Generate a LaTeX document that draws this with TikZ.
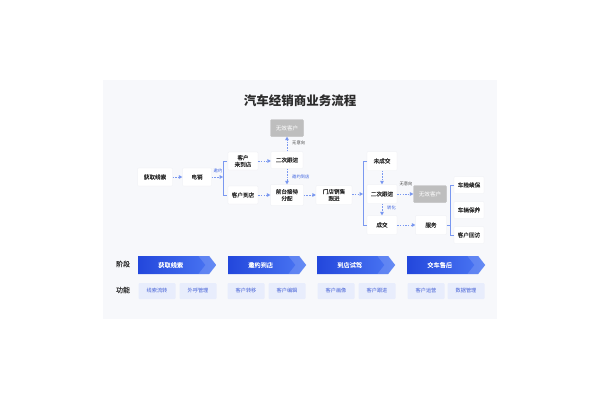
\documentclass[tikz,border=0pt]{standalone}
\usepackage{fontspec}
\setmainfont{Noto Sans CJK SC}
\newfontfamily\medfont[FakeBold=0.15]{Noto Sans CJK SC}
\usetikzlibrary{arrows.meta,shapes.symbols,calc}
\definecolor{panelbg}{HTML}{F7F8FB}
\definecolor{arrowblue}{HTML}{7A98F0}
\definecolor{labelblue}{HTML}{3D63E0}
\definecolor{stageL}{HTML}{2347DC}
\definecolor{stageR}{HTML}{4C78F4}
\definecolor{funcfill}{HTML}{E8EDFC}
\definecolor{functext}{HTML}{4460D6}
\definecolor{grayfill}{HTML}{BEBEBE}
\definecolor{txt}{HTML}{2B2B2B}
\definecolor{boxline}{HTML}{ECEEF3}
\tikzset{
  box/.style={fill=white, draw=boxline, line width=0.3pt, rounded corners=1pt,
    inner sep=0pt, align=center, text=txt,
    font=\medfont\fontsize{5.6}{6.8}\selectfont},
  graybox/.style={box, fill=grayfill, draw=grayfill, text=white,
    font=\fontsize{5.6}{6.8}\selectfont},
  flow/.style={draw=arrowblue, line width=0.6pt, dash pattern=on 1.5pt off 1.2pt,
    -{Triangle[length=3.4pt,width=3.8pt,fill=arrowblue,line width=0pt]}},
  brk/.style={draw=arrowblue, line width=0.6pt},
  lbl/.style={font=\fontsize{4.3}{5}\selectfont, inner sep=0pt, text=labelblue},
  lbldark/.style={lbl, text=txt!85},
  stagebox/.style={signal, signal to=east, signal from=nowhere, signal pointer angle=104,
    minimum width=78pt, minimum height=18pt, inner sep=0pt,
    left color=stageL, right color=stageR, draw=none, text=white,
    font=\medfont\fontsize{6.2}{7}\selectfont},
  funcbox/.style={fill=funcfill, rounded corners=1pt, minimum width=37pt, minimum height=16pt,
    inner sep=0pt, text=functext, font=\fontsize{5.2}{6}\selectfont},
  sidelbl/.style={font=\medfont\fontsize{7}{8}\selectfont, text=txt, inner sep=0pt}
}
\begin{document}
\begin{tikzpicture}[x=1pt,y=-1pt]
\useasboundingbox (0,0) rectangle (600,400);
\fill[white] (0,0) rectangle (600,400);
\fill[panelbg] (103,80) rectangle (497,319);

\node[font=\fontsize{12.5}{14}\selectfont\bfseries, text=txt] (title) at (300,101) {汽车经销商业务流程};

% flow nodes
\node[box, minimum width=35pt, minimum height=18pt] (hq) at (155,177) {获取线索};
\node[box, minimum width=29pt, minimum height=18pt] (dx) at (197,177) {电销};
\node[box, minimum width=30pt, minimum height=18pt] (klds) at (243,161) {客户\\来到店};
\node[box, minimum width=30pt, minimum height=18pt] (kdd) at (243,195) {客户到店};
\node[graybox, minimum width=33pt, minimum height=17pt] (wx1) at (287,128) {无效客户};
\node[box, minimum width=32pt, minimum height=17pt] (ec1) at (287,160) {二次跟进};
\node[box, minimum width=33pt, minimum height=21pt] (qt) at (287,195) {前台接待\\分配};
\node[box, minimum width=36pt, minimum height=19pt] (md) at (334,195) {门店销售\\跟进};
\node[box, minimum width=30pt, minimum height=19pt] (wcj) at (382,161) {未成交};
\node[box, minimum width=30pt, minimum height=19pt] (ec2) at (382,194) {二次跟进};
\node[box, minimum width=30pt, minimum height=19pt] (cj) at (382,225) {成交};
\node[graybox, minimum width=33pt, minimum height=17pt] (wx2) at (430,194) {无效客户};
\node[box, minimum width=31pt, minimum height=19pt] (fw) at (431,225) {服务};
\node[box, minimum width=30pt, minimum height=17pt] (cx) at (469,185) {车险续保};
\node[box, minimum width=30pt, minimum height=17pt] (cl) at (469,210) {车辆保养};
\node[box, minimum width=30pt, minimum height=17pt] (hf) at (469,235) {客户回访};

% brackets
\coordinate (b1) at (223,177);
\draw[brk] (227,161) -- (223,161) -- (223,195) -- (227,195);
\coordinate (b2) at (363,194);
\draw[brk] (367,161) -- (363,161) -- (363,225) -- (367,225);
\coordinate (b3) at (450,225);
\draw[brk] (454,185) -- (450,185) -- (450,235) -- (454,235);
\draw[brk] (fw.east) -- (b3);

% arrows
\draw[flow] (hq) -- (dx);
\draw[flow] (dx) -- (b1);
\draw[flow] (klds) -- (klds -| ec1.west);
\draw[flow] (kdd) -- (kdd -| qt.west);
\draw[flow] (ec1) -- (wx1);
\draw[flow] (ec1) -- (qt);
\draw[flow] (qt) -- (qt -| md.west);
\draw[flow] (md.east |- b2) -- (b2);
\draw[flow] (wcj) -- (ec2);
\draw[flow] (ec2) -- (cj);
\draw[flow] (ec2) -- (ec2 -| wx2.west);
\draw[flow] (cj) -- (cj -| fw.west);

% labels
\node[lbl] (l1) at (218,171) {邀约};
\node[lbldark, anchor=west] (l2) at (292,143) {无意向};
\node[lbl, anchor=west] (l3) at (292,177) {邀约到店};
\node[lbldark] (l4) at (406,184) {无意向};
\node[lbl, anchor=west] (l5) at (387,208) {转化};

% bottom stages
\node[sidelbl] (jd) at (123,264) {阶段};
\node[sidelbl] (gn) at (123,290) {功能};
\foreach \x/\t/\n in {138/获取线索/s1, 228/邀约到店/s2, 317/到店试驾/s3, 407/交车售后/s4}{
  \node[stagebox, anchor=west] (\n) at (\x,265) {\hspace*{-6pt}\t};
  \fill[white, opacity=0.14] ($(\n.east)+(-18,-9)$) -- ($(\n.east)+(-7,-9)$) -- (\n.east)
     -- ($(\n.east)+(-7,9)$) -- ($(\n.east)+(-18,9)$) -- ($(\n.east)+(-11,0)$) -- cycle;
}
\node[funcbox] (f1) at (157,291) {线索流转};
\node[funcbox] (f2) at (198,291) {外呼管理};
\node[funcbox] (f3) at (246,291) {客户转移};
\node[funcbox] (f4) at (287,291) {客户编辑};
\node[funcbox] (f5) at (336,291) {客户画像};
\node[funcbox] (f6) at (377,291) {客户跟进};
\node[funcbox] (f7) at (426,291) {客户运营};
\node[funcbox] (f8) at (466,291) {数据管理};
\end{tikzpicture}
\end{document}
